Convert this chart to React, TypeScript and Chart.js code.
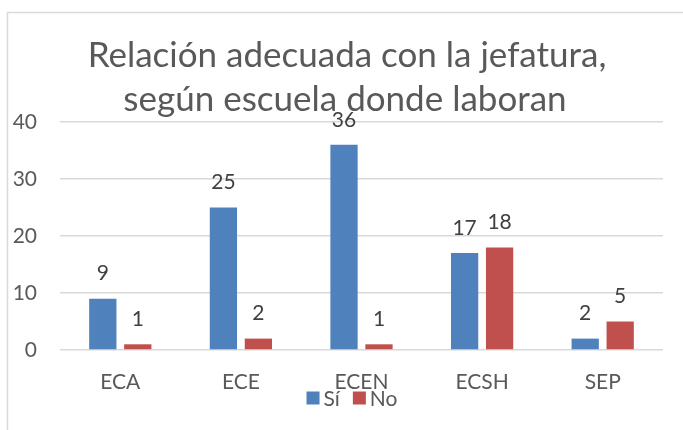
import React, { useEffect, useRef } from "react";
import { Chart, registerables } from "chart.js";

Chart.register(...registerables);

const categories = ["ECA", "ECE", "ECEN", "ECSH", "SEP"];
const siValues = [9, 25, 36, 17, 2];
const noValues = [1, 2, 1, 18, 5];
const seriesNames = ["Sí", "No"];
const seriesColors = ["#4F81BD", "#C0504D"];
const titleLines = ["Relación adecuada con la jefatura,", "según escuela donde laboran"];
const yMin = 0;
const yMax = 40;
const yStep = 10;

const FONT = "Lato, 'Open Sans', sans-serif";

const framePlugin = {
  id: "frame",
  beforeDraw(chart: any) {
    const ctx = chart.ctx;
    ctx.save();
    ctx.fillStyle = "#ffffff";
    ctx.fillRect(0, 0, chart.width, chart.height);
    ctx.strokeStyle = "#d9d9d9";
    ctx.lineWidth = 1.5;
    ctx.beginPath();
    ctx.moveTo(7.5, chart.height);
    ctx.lineTo(7.5, 12.5);
    ctx.lineTo(chart.width, 12.5);
    ctx.stroke();
    ctx.restore();
  },
};

const titlePlugin = {
  id: "customTitle",
  beforeDatasetsDraw(chart: any) {
    const ctx = chart.ctx;
    ctx.save();
    ctx.fillStyle = "#595959";
    ctx.font = `35px ${FONT}`;
    ctx.textAlign = "center";
    ctx.textBaseline = "alphabetic";
    ctx.fillText(titleLines[0], 347, 67);
    ctx.fillText(titleLines[1], 345, 111);
    ctx.restore();
  },
};

const labelsPlugin = {
  id: "barLabels",
  afterDatasetsDraw(chart: any) {
    const ctx = chart.ctx;
    ctx.save();
    ctx.fillStyle = "#404040";
    ctx.font = `21px ${FONT}`;
    ctx.textAlign = "center";
    ctx.textBaseline = "middle";
    chart.data.datasets.forEach((ds: any, i: number) => {
      const meta = chart.getDatasetMeta(i);
      meta.data.forEach((bar: any, j: number) => {
        ctx.fillText(String(ds.data[j]), bar.x, bar.y - 25);
      });
    });
    ctx.restore();
  },
};

const legendPlugin = {
  id: "customLegend",
  afterDraw(chart: any) {
    const ctx = chart.ctx;
    ctx.save();
    ctx.font = `21px ${FONT}`;
    ctx.textBaseline = "middle";
    ctx.textAlign = "left";
    const box = 13;
    const gapBoxText = 4;
    const gapItems = 13;
    const widths = seriesNames.map((n) => box + gapBoxText + ctx.measureText(n).width);
    const total = widths.reduce((a, b) => a + b, 0) + gapItems * (seriesNames.length - 1);
    const cx = 352;
    let x = cx - total / 2;
    const y = 398;
    seriesNames.forEach((n, i) => {
      ctx.fillStyle = seriesColors[i];
      ctx.fillRect(x, y - box / 2, box, box);
      ctx.fillStyle = "#595959";
      ctx.fillText(n, x + box + gapBoxText, y + 1);
      x += widths[i] + gapItems;
    });
    ctx.restore();
  },
};

export default function App() {
  const ref = useRef<HTMLCanvasElement | null>(null);

  useEffect(() => {
    if (!ref.current) return;
    const chart = new Chart(ref.current, {
      type: "bar",
      data: {
        labels: categories,
        datasets: [
          {
            label: seriesNames[0],
            data: siValues,
            backgroundColor: seriesColors[0],
            categoryPercentage: 0.58,
            barPercentage: 0.78,
          },
          {
            label: seriesNames[1],
            data: noValues,
            backgroundColor: seriesColors[1],
            categoryPercentage: 0.58,
            barPercentage: 0.78,
          },
        ],
      },
      options: {
        responsive: false,
        animation: false,
        layout: { padding: { top: 122, right: 20, bottom: 0, left: 0 } },
        plugins: {
          legend: { display: false },
          title: { display: false },
          tooltip: { enabled: false },
        },
        scales: {
          x: {
            afterFit: (s: any) => {
              s.height = 80;
            },
            grid: { display: false, drawTicks: false },
            border: { display: false },
            ticks: {
              color: "#595959",
              font: { family: FONT, size: 21 },
              padding: 20,
            },
          },
          y: {
            min: yMin,
            max: yMax,
            afterFit: (s: any) => {
              s.width = 60;
            },
            grid: { color: "#d9d9d9", lineWidth: 1.5, drawTicks: false },
            border: { display: false },
            ticks: {
              stepSize: yStep,
              color: "#595959",
              font: { family: FONT, size: 21 },
              padding: 23,
            },
          },
        },
      },
      plugins: [framePlugin, titlePlugin, labelsPlugin, legendPlugin],
    });
    return () => chart.destroy();
  }, []);

  return (
    <canvas
      ref={ref}
      width={683}
      height={430}
      style={{ position: "absolute", left: 0, top: 0, width: 683, height: 430 }}
    />
  );
}
